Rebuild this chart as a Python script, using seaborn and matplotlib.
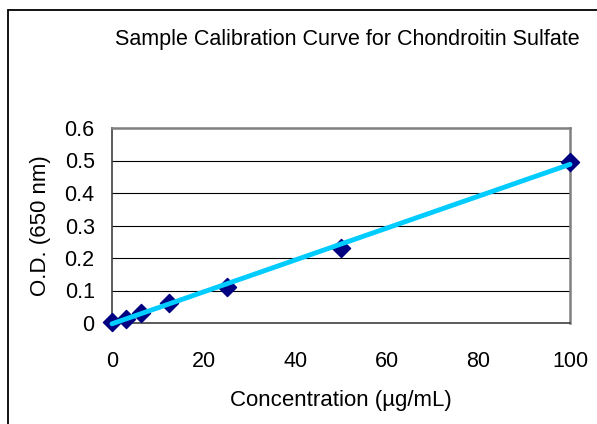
import matplotlib
matplotlib.use("Agg")
import matplotlib.pyplot as plt
from matplotlib.patches import Rectangle
import seaborn as sns

# standards (ug/mL) and measured absorbance
concentration = [0, 3.125, 6.25, 12.5, 25, 50, 100]
od_650 = [0.003, 0.012, 0.032, 0.063, 0.112, 0.232, 0.495]

x_ticks = [0, 20, 40, 60, 80, 100]
y_ticks = [0, 0.1, 0.2, 0.3, 0.4, 0.5, 0.6]
y_tick_labels = ["0", "0.1", "0.2", "0.3", "0.4", "0.5", "0.6"]

sns.set_style("white")
plt.rcParams["font.family"] = ["Liberation Sans", "DejaVu Sans"]
plt.rcParams["text.color"] = "black"
plt.rcParams["axes.labelcolor"] = "black"
plt.rcParams["xtick.color"] = "black"
plt.rcParams["ytick.color"] = "black"

fig = plt.figure(figsize=(5.97, 4.24), dpi=100)
ax = fig.add_axes([112 / 597, 101 / 424, 458 / 597, 195 / 424])

# horizontal gridlines like the Excel chart
for v in y_ticks[1:-1]:
    ax.axhline(v, color="black", lw=0.8, zorder=1)

sns.regplot(x=concentration, y=od_650, ax=ax, ci=None, marker="D",
            scatter_kws={"color": "#000080", "s": 85, "zorder": 3, "alpha": 1,
                         "edgecolors": "#000080", "clip_on": False},
            line_kws={"color": "#00CCFF", "lw": 3.5, "zorder": 4, "clip_on": False})

ax.set_xlim(0, 100)
ax.set_ylim(0, 0.6)
ax.set_xticks(x_ticks)
ax.set_yticks(y_ticks)
ax.set_yticklabels(y_tick_labels)
ax.tick_params(axis="x", direction="inout", length=9, width=1, color="#404040",
               labelsize=15.5, pad=16)
ax.tick_params(axis="y", direction="out", length=5.5, width=1, color="#404040",
               labelsize=15.5, pad=7)

for side in ["left", "bottom"]:
    ax.spines[side].set_color("#404040")
    ax.spines[side].set_linewidth(1.2)
for side in ["right", "top"]:
    ax.spines[side].set_visible(True)
    ax.spines[side].set_color("#808080")
    ax.spines[side].set_linewidth(1.8)
for s in ax.spines.values():
    s.set_zorder(2)

ax.set_xlabel("Concentration (µg/mL)", fontsize=16, labelpad=12.5)
ax.set_ylabel("O.D. (650 nm)", fontsize=16, labelpad=10)

fig.text(347 / 597, 1 - 40 / 424, "Sample Calibration Curve for Chondroitin Sulfate",
         ha="center", va="center", fontsize=15.5)

# outer chart border (only left and top edges are visible in the crop)
fig.add_artist(Rectangle((8 / 597, -0.1), 1.2, 1 - 10 / 424 + 0.1,
                         transform=fig.transFigure, fill=False,
                         edgecolor="black", lw=1.3))

fig.savefig("out.png", dpi=100)
